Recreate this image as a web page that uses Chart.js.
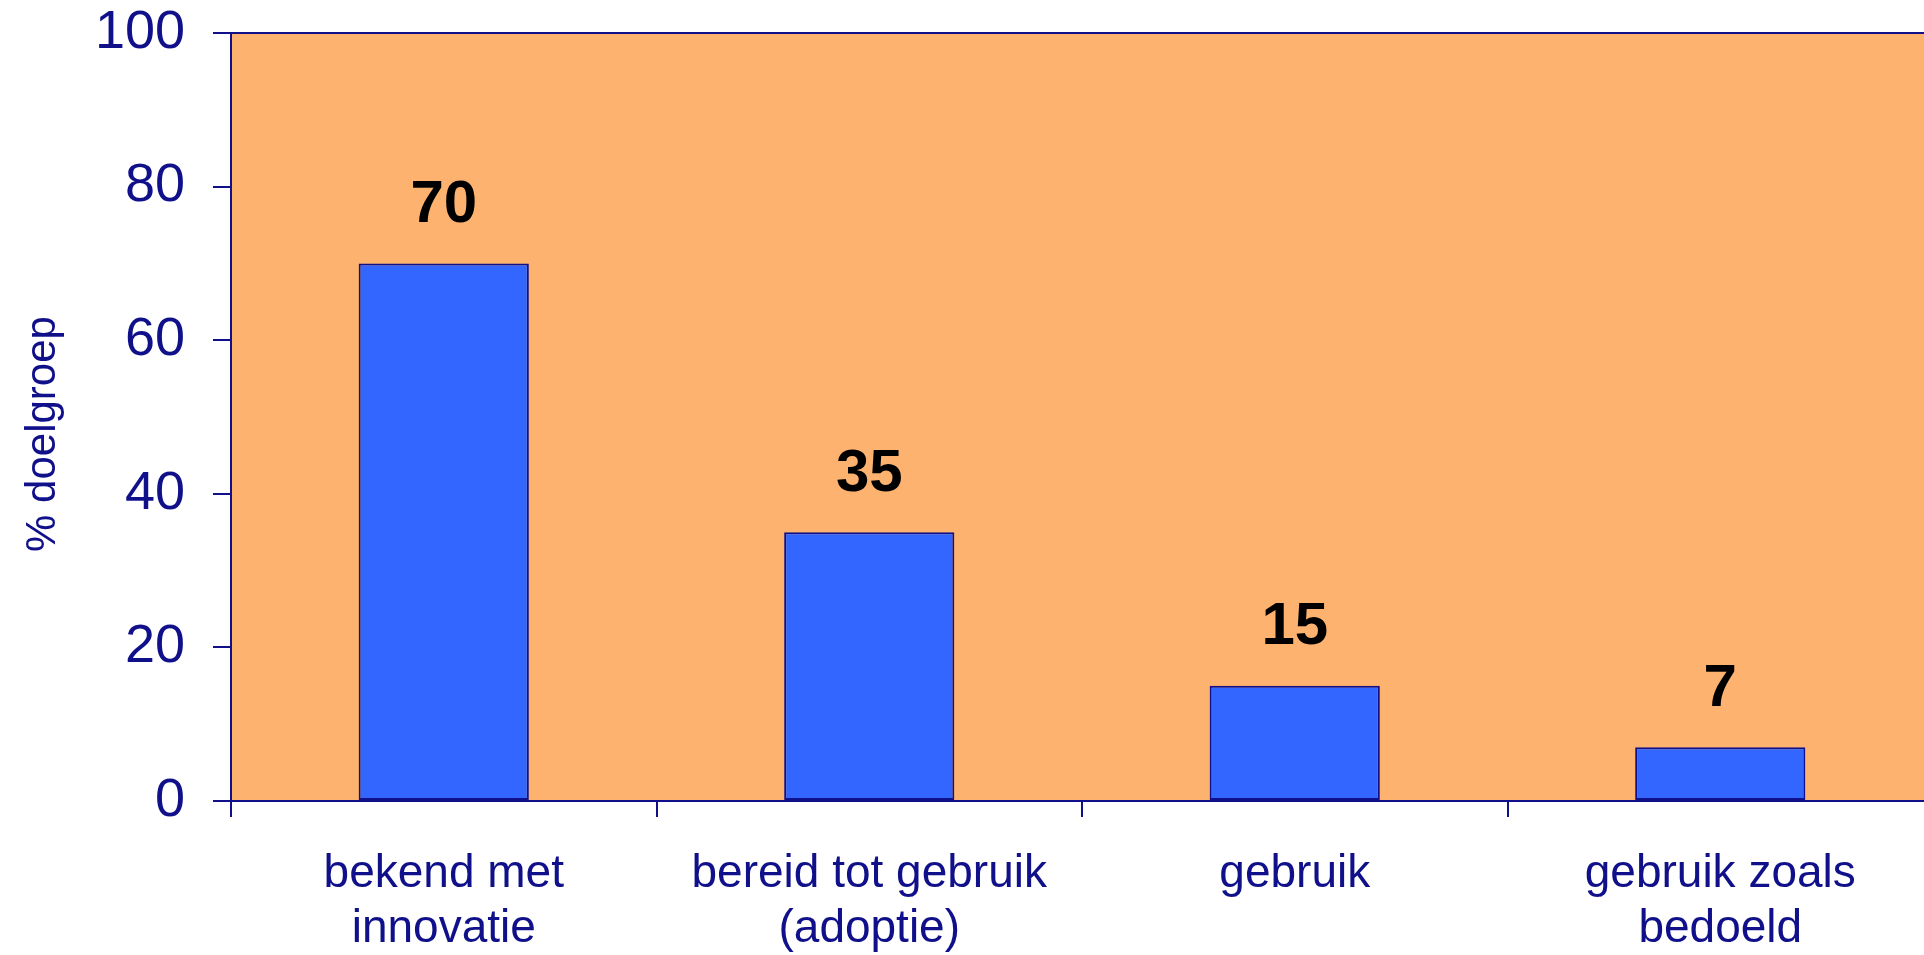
<!DOCTYPE html>
<html>
<head>
<meta charset="utf-8">
<script src="https://cdn.jsdelivr.net/npm/chart.js@4.4.1/dist/chart.umd.min.js"></script>
<style>
  html, body { margin: 0; padding: 0; background: #ffffff; overflow: hidden; }
  #grafiek { display: block; }
</style>
</head>
<body>
<canvas id="grafiek" width="1940" height="955"></canvas>
<script>
const categorieen = [
  ["bekend met", "innovatie"],
  ["bereid tot gebruik", "(adoptie)"],
  ["gebruik"],
  ["gebruik zoals", "bedoeld"]
];
const percentages = [70, 35, 15, 7];
const asTitel = "% doelgroep";

const NAVY = "#10108a";
const ORANJE = "#fdb36f";
const BLAUW = "#3366ff";
const LETTER = "'Liberation Sans', Arial, sans-serif";

const achtergrondPlugin = {
  id: "achtergrond",
  beforeDraw(chart) {
    const { ctx, chartArea: a } = chart;
    ctx.save();
    ctx.fillStyle = ORANJE;
    ctx.fillRect(a.left, a.top, a.right - a.left, a.bottom - a.top);
    ctx.restore();
  },
  afterDraw(chart) {
    const { ctx, chartArea: a } = chart;
    ctx.save();
    ctx.strokeStyle = NAVY;
    ctx.lineWidth = 2;
    ctx.strokeRect(a.left, a.top, a.right - a.left, a.bottom - a.top);
    // y-as titel, iets onder het midden zoals in het origineel
    ctx.translate(43, (a.top + a.bottom) / 2 + 17);
    ctx.rotate(-Math.PI / 2);
    ctx.fillStyle = NAVY;
    ctx.font = "42px " + LETTER;
    ctx.textAlign = "center";
    ctx.textBaseline = "middle";
    ctx.fillText(asTitel, 0, 0);
    ctx.restore();
  }
};

const waardenPlugin = {
  id: "waarden",
  afterDatasetsDraw(chart) {
    const { ctx } = chart;
    const meta = chart.getDatasetMeta(0);
    ctx.save();
    ctx.fillStyle = "#000000";
    ctx.font = "bold 60px " + LETTER;
    ctx.textAlign = "center";
    ctx.textBaseline = "middle";
    meta.data.forEach((bar, i) => {
      ctx.fillText(String(percentages[i]), bar.x, bar.y - 58);
    });
    ctx.restore();
  }
};

const ctx = document.getElementById("grafiek").getContext("2d");
const grafiek = new Chart(ctx, {
  type: "bar",
  data: {
    labels: categorieen,
    datasets: [
      {
        data: percentages,
        backgroundColor: BLAUW,
        borderColor: NAVY,
        borderWidth: 2,
        borderSkipped: false,
        categoryPercentage: 1,
        barPercentage: 0.4
      }
    ]
  },
  options: {
    responsive: false,
    animation: false,
    devicePixelRatio: 1,
    layout: { padding: { top: 33, right: 7, left: 0, bottom: 0 } },
    plugins: {
      legend: { display: false },
      tooltip: { enabled: false }
    },
    scales: {
      x: {
        offset: true,
        grid: {
          offset: true,
          drawOnChartArea: false,
          color: NAVY,
          lineWidth: 2,
          tickLength: 16
        },
        border: { color: NAVY, width: 2 },
        ticks: {
          color: NAVY,
          maxRotation: 0,
          padding: 30,
          font: { family: LETTER, size: 46, lineHeight: 1.2 }
        },
        afterFit(scale) {
          scale.height = 154;
          scale.paddingLeft = 0;
          scale.paddingRight = 0;
        }
      },
      y: {
        min: 0,
        max: 100,
        ticks: {
          stepSize: 20,
          color: NAVY,
          padding: 28,
          font: { family: LETTER, size: 54 }
        },
        grid: {
          drawOnChartArea: false,
          color: NAVY,
          lineWidth: 2,
          tickLength: 18
        },
        border: { color: NAVY, width: 2 },
        afterFit(scale) {
          scale.width = 231;
          scale.paddingTop = 0;
          scale.paddingBottom = 0;
        }
      }
    }
  },
  plugins: [achtergrondPlugin, waardenPlugin]
});
</script>
</body>
</html>
